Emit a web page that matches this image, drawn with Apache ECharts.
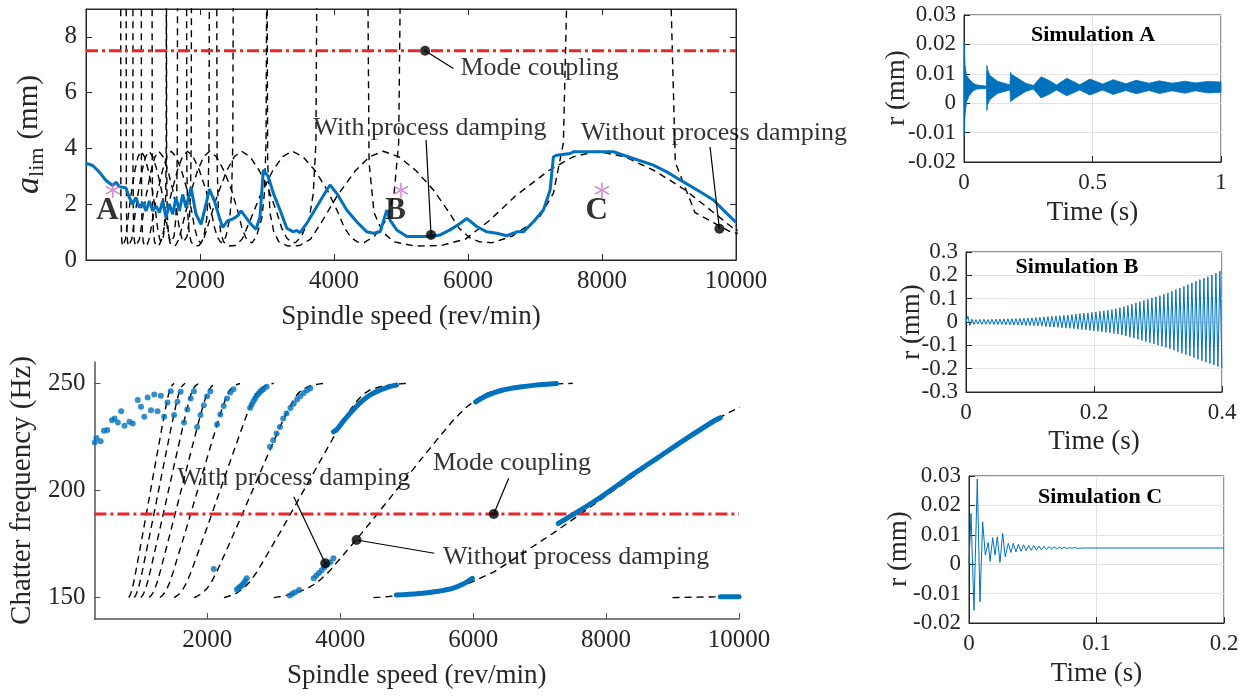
<!DOCTYPE html>
<html><head><meta charset="utf-8">
<script src="https://cdn.jsdelivr.net/npm/echarts@6/dist/echarts.min.js"></script>
<style>html,body{margin:0;padding:0;background:#fff}#c{width:1245px;height:696px}</style>
</head><body><div id="c"></div>
<script>
// ---------------- DATA ----------------
// chatter frequency samples (Hz) shared by every lobe (without process damping)
const chatterFreq = [150,150.05,150.2,150.5,151,152,154,157,162,170,180,188,196,205,215,225,233,238,242,245,247,248.5,249.5,249.8,249.95,250];
// limiting depth of cut (mm) at each chatter frequency sample
const lobeDepth = [12,3.5,1.7,1.0,0.65,0.5,0.52,0.75,1.4,2.3,3.2,3.7,3.9,3.7,3.2,2.5,1.75,1.15,0.8,0.65,0.62,0.85,1.5,2.4,4.2,12];
// spindle speed (rev/min) of each lobe at each frequency sample
const lobeSpeedM1 = [9000,9094,9388,9923,10659,12160];
const lobeSpeed0 = [4500,4524,4598,4728,4897,5211,5600,5962,6312,6711,7200,7570,7930,8339,8787,9247,9641,9951,10298,10652];
const lobeSpeed1 = [3000,3011,3045,3103,3179,3316,3487,3651,3827,4048,4320,4530,4736,4970,5227,5488,5706,5864,6025,6176,6361,6656,7061,7276,7424,7500];
const lobeSpeed2 = [2250,2256,2276,2309,2353,2432,2532,2631,2746,2898,3086,3232,3376,3540,3720,3902,4052,4157,4258,4349,4450,4602,4798,4898,4966,5000];
const lobeSpeed3 = [1800,1804,1817,1839,1868,1920,1987,2057,2141,2257,2400,2512,2623,2749,2887,3027,3142,3220,3293,3356,3423,3516,3633,3692,3731,3750];
const lobeSpeed4 = [1500,1503,1512,1528,1549,1586,1635,1688,1755,1848,1964,2055,2145,2247,2359,2473,2565,2627,2684,2732,2780,2845,2924,2962,2987,3000];
const lobeSpeed5 = [1286,1288,1295,1307,1323,1351,1389,1432,1486,1564,1662,1738,1814,1900,1994,2090,2167,2219,2265,2304,2341,2389,2446,2473,2491,2500];
const lobeSpeed6 = [1125,1127,1132,1142,1154,1177,1208,1243,1289,1356,1440,1506,1572,1645,1727,1810,1877,1921,1960,1992,2022,2059,2103,2123,2136,2143];
const lobeSpeed7 = [1000,1001,1006,1013,1024,1042,1068,1098,1138,1197,1271,1329,1386,1451,1523,1596,1654,1693,1727,1754,1779,1809,1844,1860,1870,1875];
const lobeSpeed8 = [900,901,905,911,920,935,958,983,1019,1071,1137,1189,1240,1298,1362,1427,1479,1514,1543,1567,1588,1614,1641,1654,1663,1667];
const lobeSpeed9 = [818,819,822,828,835,848,868,890,922,970,1029,1075,1122,1174,1232,1291,1338,1368,1395,1416,1435,1456,1479,1490,1497,1500];
const lobeSpeeds = [lobeSpeedM1,lobeSpeed0,lobeSpeed1,lobeSpeed2,lobeSpeed3,lobeSpeed4,lobeSpeed5,lobeSpeed6,lobeSpeed7,lobeSpeed8,lobeSpeed9];

// with process damping: stability limit [speed, depth]
const dampedLimit = [[300,3.47],[400,3.39],[499,3.15],[599,2.85],[698,2.67],[748,2.79],[797,2.63],[897,2.58],[947,2.24],[996,2.0],[1046,2.24],[1096,1.88],[1146,2.06],[1196,1.76],[1245,2.12],[1295,1.76],[1345,1.94],[1395,1.7],[1444,2.12],[1494,1.52],[1544,2.0],[1594,1.64],[1643,2.24],[1693,1.76],[1743,2.35],[1793,1.88],[1867,2.6],[1942,1.64],[2017,1.28],[2091,2.0],[2141,2.54],[2216,2.12],[2291,1.52],[2340,1.17],[2415,1.41],[2490,1.47],[2564,1.59],[2614,1.76],[2689,1.52],[2763,1.28],[2838,1.1],[2897,1.55],[2946,3.23],[3021,2.99],[3096,2.39],[3196,1.79],[3296,1.14],[3394,1.01],[3444,1.06],[3494,0.98],[3594,1.31],[3743,1.91],[3893,2.51],[3942,2.69],[4042,2.39],[4191,1.79],[4340,1.37],[4490,1.01],[4589,0.96],[4689,1.01],[4788,1.79],[4837,1.43],[4937,1.08],[5087,0.84],[5434,0.84],[5584,0.9],[5733,1.08],[5882,1.31],[5982,1.49],[6131,1.2],[6281,1.01],[6430,0.96],[6579,0.87],[6728,1.01],[6827,1.01],[6977,1.37],[7126,1.79],[7226,2.51],[7275,3.7],[7325,3.76],[7524,3.82],[7573,3.88],[7970,3.88],[8170,3.88],[8468,3.64],[8767,3.4],[8967,3.16],[9215,2.8],[9464,2.45],[9663,2.15],[9813,1.79],[10000,1.35]];
const simPoints = [[700,2.5],[5000,2.5],[8000,2.5]];
const simPointNames = ['A','B','C'];
const modeCouplingDepth = 7.5;
const modeCouplingFreq = 189;

// with process damping: chatter frequencies [speed, Hz]
const dampedFreqDots = [[305,222.4],[330,224.5],[394,223],[444,227.9],[494,228.2],[564,232.8],[603,233.6],[653,231.8],[703,237],[753,230.2],[827,232.1],[877,231.3],[952,242.2],[1001,239.1],[1051,234.4],[1101,243.4],[1151,237.5],[1201,244.8],[1250,237],[1300,244.2],[1350,234.4],[1400,241.1],[1449,246.4],[1499,235.2],[1549,241.4],[1598,246.1],[1648,231.8],[1698,237.8],[1748,243],[1797,246.4],[1847,229.6],[1897,235.2],[1946,239.8],[1996,244],[2046,246.4],[2096,163.3],[2146,230.8],[2195,235.5],[2245,239.5],[2295,243],[2345,245.8],[2394,247.3],[2444,153.8],[2470,154.5],[2494,155.1],[2520,155.8],[2543,156.6],[2568,157.8],[2593,159],[2643,238.6],[2668,240.2],[2693,241.7],[2718,243],[2743,244.2],[2768,245.2],[2793,246.1],[2818,246.8],[2842,247.3],[2892,248.4],[2942,220.4],[2991,223.5],[3041,226.6],[3091,229.7],[3141,233.6],[3191,236],[3240,151],[3280,151.8],[3320,152.5],[3380,153.5],[3250,238.5],[3300,240.5],[3350,242.5],[3400,244],[3450,245.5],[3500,246.8],[3549,247.8],[3600,159],[3640,160.3],[3680,161.5],[3720,162.8],[3760,164.2],[3800,165.3],[3850,166.5],[3897,168.4]];
const dampedFreqRunL2 = [[3897,227.4],[3947,228.5],[4050,232.5],[4146,236],[4250,239.5],[4345,242.2],[4470,245],[4594,246.8],[4720,248.3],[4843,249.2]];
const dampedFreqRunL0low = [[4843,151.2],[4942,151.3],[5240,152],[5440,152.8],[5688,154.3],[5850,156.3],[5987,159]];
const dampedFreqRunL1 = [[6037,241.4],[6200,244.3],[6435,246.8],[6700,248.3],[6932,249.2],[7255,250]];
const dampedFreqRunL0 = [[7280,184.6],[7570,190],[7927,197.1],[8425,208],[8787,215.5],[9247,225],[9641,232.8],[9718,234]];
const dampedFreqRunLm1 = [[9718,150.4],[10000,150.4]];

// Simulation A: envelope of the displacement band
const simATime  = [0,0.001,0.004,0.01,0.02,0.035,0.05,0.087,0.089,0.092,0.1,0.13,0.179,0.181,0.185,0.2,0.24,0.27,0.3,0.33,0.36,0.4,0.45,0.49,0.54,0.58,0.63,0.67,0.72,0.76,0.81,0.86,0.9,0.95,1.0];
const simAUpper = [0.005,0.021,0.013,0.0095,0.0082,0.0068,0.0062,0.0058,0.0128,0.0115,0.0095,0.0075,0.0062,0.0105,0.0098,0.009,0.0068,0.006,0.009,0.0078,0.0062,0.0085,0.0063,0.0082,0.0065,0.008,0.0066,0.0078,0.0068,0.0076,0.0068,0.0075,0.0069,0.0074,0.0072];
const simALower = [0.0,-0.011,-0.004,0.0005,0.0025,0.0042,0.0048,0.0050,-0.0025,-0.0005,0.0012,0.0033,0.0045,0.0005,0.0008,0.0018,0.004,0.0048,0.0018,0.003,0.0045,0.0025,0.0045,0.0028,0.0045,0.003,0.0043,0.0032,0.0043,0.0033,0.0042,0.0034,0.0042,0.0035,0.0037];
// Simulation B: successive peaks / troughs of the growing vibration
const simBPeriod = 0.00625;
const simBPeaks = [0.025,0.012,0.010,0.011,0.012,0.011,0.012,0.012,0.013,0.013,0.014,0.014,0.015,0.015,0.016,0.017,0.018,0.019,0.020,0.022,0.023,0.025,0.026,0.027,0.029,0.030,0.032,0.034,0.036,0.037,0.039,0.041,0.043,0.046,0.048,0.050,0.053,0.057,0.061,0.066,0.071,0.076,0.082,0.087,0.092,0.097,0.103,0.108,0.113,0.119,0.125,0.132,0.139,0.146,0.153,0.160,0.168,0.175,0.182,0.188,0.194,0.201,0.209,0.218];
const simBTroughs = [-0.015,-0.010,-0.009,-0.010,-0.010,-0.010,-0.011,-0.011,-0.011,-0.012,-0.012,-0.013,-0.013,-0.014,-0.015,-0.015,-0.016,-0.017,-0.018,-0.020,-0.021,-0.022,-0.023,-0.025,-0.026,-0.027,-0.029,-0.031,-0.032,-0.034,-0.036,-0.038,-0.040,-0.042,-0.044,-0.046,-0.049,-0.052,-0.056,-0.060,-0.065,-0.069,-0.074,-0.079,-0.084,-0.089,-0.094,-0.099,-0.104,-0.109,-0.115,-0.121,-0.127,-0.134,-0.140,-0.146,-0.153,-0.160,-0.166,-0.172,-0.178,-0.184,-0.191,-0.199];
// Simulation C: decaying vibration [t, r]
const simC = [[0,0],[0.0016,0.0173],[0.0039,-0.0157],[0.0065,0.029],[0.0086,-0.0128],[0.0107,0.0144],[0.0128,0.0031],[0.0151,0.0074],[0.0165,0.001],[0.0186,0.009],[0.0204,0.0031],[0.0222,0.0093],[0.0243,0.0006],[0.0264,0.0105],[0.0284,0.0025],[0.0308,0.0071],[0.0329,0.004],[0.0347,0.0071],[0.0368,0.0042],[0.0388,0.0068],[0.0408,0.0044],[0.0428,0.0066],[0.0448,0.0046],[0.0468,0.0064],[0.0488,0.0047],[0.0508,0.0063],[0.0528,0.0048],[0.0548,0.0062],[0.0568,0.0049],[0.0588,0.0061],[0.0608,0.005],[0.0628,0.006],[0.0648,0.0051],[0.0668,0.0059],[0.0688,0.0052],[0.0708,0.0058],[0.0728,0.0053],[0.0748,0.0058],[0.0768,0.0053],[0.0788,0.0057],[0.0808,0.0054],[0.0828,0.0057],[0.0848,0.0054],[0.09,0.0055],[0.2,0.0055]];

// tick labels
const speedTicks = [2000,4000,6000,8000,10000];
const depthTicks = [0,2,4,6,8];
const freqTicks = [150,200,250];
const simATimeTicks = [0,0.5,1];
const simBTimeTicks = [0,0.2,0.4];
const simCTimeTicks = [0,0.1,0.2];
const smallDispTicks = [-0.02,-0.01,0,0.01,0.02,0.03];
const largeDispTicks = [-0.3,-0.2,-0.1,0,0.1,0.2,0.3];

// annotations (anchored in data coordinates)
const topNotes = [
  {name:'Mode coupling', value:[5881,6.88], pos:'right'},
  {name:'With process damping', value:[5433,4.74], pos:'inside'},
  {name:'Without process damping', value:[9672,4.56], pos:'inside'}
];
const topLeaders = [[[5360,7.5],[5782,6.87]],[[5449,0.9],[5375,4.3]],[[9752,1.12],[9613,4.05]]];
const topDots = [[5360,7.5],[5449,0.9],[9752,1.12]];
const botNotes = [
  {name:'With process damping', value:[3300,205.8], pos:'inside'},
  {name:'Without process damping', value:[5539,169.1], pos:'right'},
  {name:'Mode coupling', value:[6584,212.8], pos:'inside'}
];
const botLeaders = [[[3773,166],[3300,197.1]],[[4245,176.9],[5415,170.7]],[[6310,189],[6534,205.7]]];
const botDots = [[3773,166],[4245,176.9],[6310,189]];

// ---------------- CHART ----------------
const FONT = 'Liberation Serif', INK = '#262626', BLUE = '#0072BD', RED = '#E8262B';
const chart = echarts.init(document.getElementById('c'), null, {renderer:'canvas'});
const plain = v => String(v);
const tickFont = {fontFamily:FONT, fontSize:25, color:INK, formatter:plain, showMinLabel:true, showMaxLabel:true, hideOverlap:false};
const smallTickFont = Object.assign({}, tickFont, {fontSize:23, lineHeight:18});
const nameFont = {fontFamily:FONT, fontSize:27, color:INK};
const GRIDLINE = {show:true, lineStyle:{color:'#e3e3e3', width:1}};

function axisBase(extra){
  return Object.assign({
    type:'value', axisLine:{show:true, onZero:false, lineStyle:{color:INK, width:1}},
    splitLine:{show:false}
  }, extra);
}
function ticks(vals, color){ return {show:true, inside:true, length:6, customValues:vals, lineStyle:{color:color||INK}}; }
function labels(vals, margin){ return Object.assign({customValues:vals, margin:margin}, tickFont); }
function smallLabels(vals, margin){ return Object.assign({customValues:vals, margin:margin}, smallTickFont); }
const asterisk = 'path://M-0.9,-10L0.9,-10L0.9,10L-0.9,10Z M8.2,5.9L9.1,4.3L-8.2,-5.9L-9.1,-4.3Z M-9.1,4.3L-8.2,5.9L9.1,-4.3L8.2,-5.9Z';

const xAxes = [
  axisBase({gridIndex:0, min:300, max:10000, position:'bottom', axisTick:ticks(speedTicks), axisLabel:labels(speedTicks,9),
    name:'Spindle speed (rev/min)', nameLocation:'middle', nameGap:43, nameTextStyle:nameFont}),
  axisBase({gridIndex:0, min:300, max:10000, position:'top', axisTick:ticks(speedTicks), axisLabel:{show:false}}),
  axisBase({gridIndex:1, min:300, max:10000,
    axisLine:{show:true, onZero:false, lineStyle:{color:'#555', width:1.5}},
    axisTick:ticks(speedTicks,'#555'), axisLabel:labels(speedTicks,9),
    name:'Spindle speed (rev/min)', nameLocation:'middle', nameGap:43, nameTextStyle:nameFont}),
  axisBase({gridIndex:2, min:0, max:1, interval:0.5, splitLine:GRIDLINE, axisTick:ticks(simATimeTicks), axisLabel:smallLabels(simATimeTicks,12),
    name:'Time (s)', nameLocation:'middle', nameGap:37, nameTextStyle:nameFont}),
  axisBase({gridIndex:3, min:0, max:0.4, interval:0.2, splitLine:GRIDLINE, axisTick:ticks(simBTimeTicks), axisLabel:smallLabels(simBTimeTicks,12),
    name:'Time (s)', nameLocation:'middle', nameGap:36, nameTextStyle:nameFont}),
  axisBase({gridIndex:4, min:0, max:0.2, interval:0.1, splitLine:GRIDLINE, axisTick:ticks(simCTimeTicks), axisLabel:smallLabels(simCTimeTicks,12),
    name:'Time (s)', nameLocation:'middle', nameGap:37, nameTextStyle:nameFont})
];
const yAxes = [
  axisBase({gridIndex:0, min:0, max:9, position:'left', axisTick:ticks(depthTicks), axisLabel:labels(depthTicks,9),
    name:'{it|a}{sub|lim}{n|(mm)}', nameLocation:'middle', nameGap:38,
    nameTextStyle:{fontFamily:FONT, color:INK, fontSize:29, rich:{
      it:{fontFamily:FONT, fontStyle:'italic', fontSize:34, color:INK},
      sub:{fontFamily:FONT, fontSize:22, color:INK, padding:[16,0,0,0]},
      n:{fontFamily:FONT, fontSize:29, color:INK, padding:[0,0,0,8]}}}}),
  axisBase({gridIndex:0, min:0, max:9, position:'right', axisTick:ticks(depthTicks), axisLabel:{show:false}}),
  axisBase({gridIndex:1, min:140, max:260,
    axisLine:{show:true, onZero:false, lineStyle:{color:'#555', width:1.5}},
    axisTick:ticks(freqTicks,'#555'), axisLabel:labels(freqTicks,9),
    name:'Chatter frequency (Hz)', nameLocation:'middle', nameGap:56,
    nameTextStyle:{fontFamily:FONT, fontSize:29, color:INK}}),
  axisBase({gridIndex:2, min:-0.02, max:0.03, interval:0.01, splitLine:GRIDLINE, axisTick:ticks(smallDispTicks), axisLabel:smallLabels(smallDispTicks,8)}),
  axisBase({gridIndex:3, min:-0.3, max:0.3, interval:0.1, splitLine:GRIDLINE, axisTick:ticks(largeDispTicks), axisLabel:smallLabels(largeDispTicks,8)}),
  axisBase({gridIndex:4, min:-0.02, max:0.03, interval:0.01, splitLine:GRIDLINE, axisTick:ticks(smallDispTicks), axisLabel:smallLabels(smallDispTicks,8)})
];

const series = [];
const dash = {color:'#000', width:1.4, type:[7,5]};
// lobes without process damping
lobeSpeeds.forEach(sp => {
  series.push({type:'line', xAxisIndex:0, yAxisIndex:0, symbol:'none', silent:true, z:2,
    lineStyle:dash, data: sp.map((n,i)=>[n, lobeDepth[i]])});
  series.push({type:'line', xAxisIndex:2, yAxisIndex:2, symbol:'none', silent:true, z:2,
    lineStyle:dash, data: sp.map((n,i)=>[n, chatterFreq[i]])});
});
// mode coupling lines
series.push({type:'line', xAxisIndex:0, yAxisIndex:0, symbol:'none', z:3,
  lineStyle:{color:RED, width:3, type:[12,4,3,4]}, data:[[300,modeCouplingDepth],[10000,modeCouplingDepth]]});
series.push({type:'line', xAxisIndex:2, yAxisIndex:2, symbol:'none', z:3,
  lineStyle:{color:RED, width:3, type:[12,4,3,4]}, data:[[300,modeCouplingFreq],[10000,modeCouplingFreq]]});
// with process damping (top)
series.push({type:'line', xAxisIndex:0, yAxisIndex:0, symbol:'none', z:4,
  lineStyle:{color:BLUE, width:3}, data:dampedLimit});
// simulation points
series.push({type:'scatter', xAxisIndex:0, yAxisIndex:0, z:5, symbol:asterisk, symbolSize:15,
  itemStyle:{color:'#C763C4'}, data:simPoints});
series.push({type:'scatter', xAxisIndex:0, yAxisIndex:0, z:5, symbolSize:1, itemStyle:{color:'rgba(0,0,0,0)'},
  label:{show:true, position:'inside', formatter:p=>p.name, fontFamily:FONT, fontWeight:'bold', fontSize:31, color:'#000'},
  data: simPoints.map((p,i)=>({name:simPointNames[i], value:[p[0]-80, 1.76]}))});
// with process damping (bottom) chatter frequencies
series.push({type:'scatter', xAxisIndex:2, yAxisIndex:2, z:4, symbolSize:6, itemStyle:{color:BLUE}, data:dampedFreqDots});
[dampedFreqRunL2, dampedFreqRunL0low, dampedFreqRunL1, dampedFreqRunL0, dampedFreqRunLm1].forEach(r=>{
  series.push({type:'line', xAxisIndex:2, yAxisIndex:2, z:4, symbol:'none', smooth:0.3,
    lineStyle:{color:BLUE, width:5, cap:'round'}, data:r});
});
// annotations
function addNotes(xi, yi, notes, leaders, dots){
  leaders.forEach(l=>series.push({type:'line', xAxisIndex:xi, yAxisIndex:yi, symbol:'none', z:6,
    lineStyle:{color:'#000', width:1.2}, data:l}));
  series.push({type:'scatter', xAxisIndex:xi, yAxisIndex:yi, z:7, symbolSize:10, itemStyle:{color:'#000'}, data:dots});
  notes.forEach(nt=>series.push({type:'scatter', xAxisIndex:xi, yAxisIndex:yi, z:8, symbolSize:1,
    itemStyle:{color:'rgba(0,0,0,0)'},
    label:{show:true, position:nt.pos, distance:0, formatter:p=>p.name, fontFamily:FONT, fontSize:26, color:'#000'},
    data:[{name:nt.name, value:nt.value}]}));
}
addNotes(0,0,topNotes,topLeaders,topDots);
addNotes(2,2,botNotes,botLeaders,botDots);

// Simulation A band (polygon between upper and lower envelope, placed through the axes)
series.push({type:'custom', xAxisIndex:3, yAxisIndex:3, z:3, data:[[0,0]],
  renderItem:(params, api)=>{
    const up = simATime.map((t,i)=>api.coord([t, simAUpper[i]]));
    const lo = simATime.map((t,i)=>api.coord([t, simALower[i]])).reverse();
    return {type:'polygon', shape:{points: up.concat(lo)}, style:{fill:BLUE, stroke:BLUE, lineWidth:0.8}};
  }});
// Simulation B
const simBData = [[0,0]];
simBPeaks.forEach((v,i)=>{ simBData.push([i*simBPeriod+0.003, v]); simBData.push([i*simBPeriod+0.003+simBPeriod/2, simBTroughs[i]]); });
series.push({type:'line', xAxisIndex:4, yAxisIndex:4, symbol:'none', lineStyle:{width:1, color:BLUE}, data:simBData});
// Simulation C
series.push({type:'line', xAxisIndex:5, yAxisIndex:5, symbol:'none', lineStyle:{width:1, color:BLUE}, data:simC});

const gridBox = {show:true, borderColor:INK, borderWidth:1, backgroundColor:'rgba(0,0,0,0)'};
function vText(x, y, txt){
  return {type:'text', x:x, y:y, rotation:Math.PI/2, z:10,
    style:{text:txt, font:'27px "Liberation Serif"', fill:INK, textAlign:'center', textVerticalAlign:'middle', align:'center', verticalAlign:'middle'}};
}
function boldText(x, y, txt){
  return {type:'text', x:x, y:y, z:10, style:{text:txt, font:'bold 22px "Liberation Serif"', fill:'#000', textAlign:'center', textVerticalAlign:'middle', align:'center', verticalAlign:'middle'}};
}
chart.setOption({
  animation:false,
  backgroundColor:'#fff',
  grid:[
    Object.assign({left:86, top:9, width:650, height:251}, gridBox),
    {left:89, top:362, width:650, height:257},
    Object.assign({left:964, top:15, width:257, height:147}, gridBox),
    Object.assign({left:966, top:252, width:256, height:140}, gridBox),
    Object.assign({left:969, top:476, width:255, height:147}, gridBox)
  ],
  xAxis:xAxes, yAxis:yAxes, series:series,
  graphic:[
    boldText(1093, 35, 'Simulation A'),
    boldText(1077, 267, 'Simulation B'),
    boldText(1100, 497, 'Simulation C'),
    vText(897, 88, 'r (mm)'),
    vText(912, 322, 'r (mm)'),
    vText(899, 549, 'r (mm)')
  ]
});
</script></body></html>
